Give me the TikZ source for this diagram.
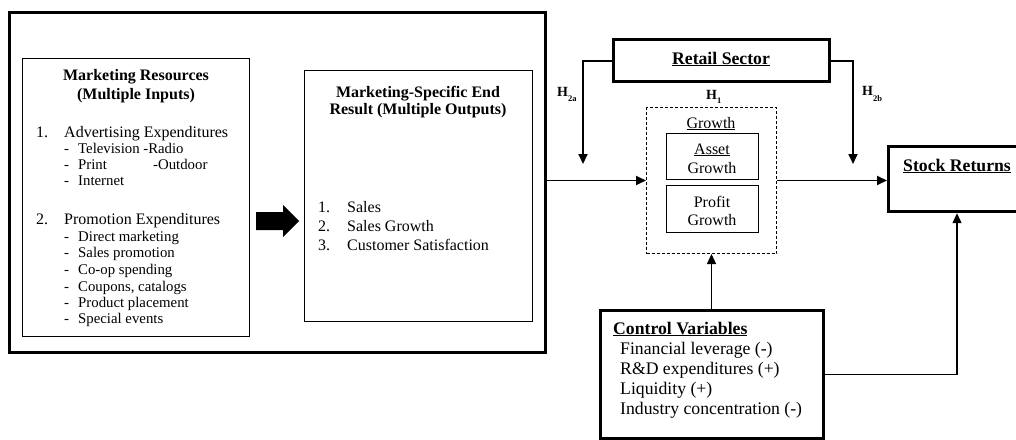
\documentclass[tikz,border=0pt]{standalone}
\usepackage{fontspec}
\setmainfont{Liberation Serif}
\usetikzlibrary{arrows.meta}
\begin{document}
\begin{tikzpicture}[x=1pt,y=-1pt,
  box/.style={draw, anchor=north west, inner sep=0pt},
  thinbox/.style={box, line width=1.4pt},
  thickbox/.style={box, line width=3.2pt},
  t/.style={inner sep=0pt, anchor=base west},
  tc/.style={inner sep=0pt, anchor=base},
  fA/.style={font=\fontsize{16}{17}\selectfont},
  fAb/.style={font=\fontsize{16}{17}\selectfont\bfseries},
  fS/.style={font=\fontsize{14.8}{16}\selectfont},
  fC/.style={font=\fontsize{17.7}{20}\selectfont},
  fCb/.style={font=\fontsize{17.7}{20}\selectfont\bfseries},
  fH/.style={font=\fontsize{14}{14}\selectfont\bfseries},
  arr/.style={line width=1.8pt, -{Triangle[length=10pt,width=9pt]}},
  tarr/.style={line width=1.2pt, -{Triangle[length=10pt,width=9pt]}}
]
\useasboundingbox (0,0) rectangle (1016,439);
% boxes
\node[box, line width=3pt, minimum width=536pt, minimum height=340pt] (outer) at (8,11) {};
\node[thinbox, minimum width=227pt, minimum height=278pt] (res) at (22,58) {};
\node[thinbox, minimum width=228pt, minimum height=251pt] (msp) at (304,70) {};
\node[thickbox, minimum width=216pt, minimum height=42pt] (retail) at (612,38) {};
\node[box, dash pattern=on 3pt off 2pt, line width=1pt, minimum width=130pt, minimum height=146pt] (dash) at (646,107) {};
\node[box, line width=1.3pt, minimum width=92pt, minimum height=46pt] (asset) at (666,133) {};
\node[box, line width=1.3pt, minimum width=92pt, minimum height=47pt] (profit) at (666,185) {};
\node[thickbox, minimum width=135pt, minimum height=65pt] (stock) at (887,145) {};
\node[thickbox, minimum width=223pt, minimum height=128pt] (control) at (599,309) {};
% fat arrow
\fill (256,212) -- (283,212) -- (283,205) -- (299,221) -- (283,237) -- (283,230) -- (256,230) -- cycle;
% texts in resources box
\node[tc, fAb] (rt1) at (136,80) {Marketing Resources};
\node[tc, fAb] (rt2) at (136,99) {(Multiple Inputs)};
\node[t, fA] (r1n) at (36,137) {1.};
\node[t, fA] (r1) at (64,137) {Advertising Expenditures};
\node[t, fS] (r1a) at (64,153) {-};
\node[t, fS] (r1at) at (78,153) {Television -Radio};
\node[t, fS] (r1b) at (64,169) {-};
\node[t, fS] (r1bt) at (78,169) {Print};
\node[t, fS] (r1bo) at (153,169) {-Outdoor};
\node[t, fS] (r1c) at (64,185) {-};
\node[t, fS] (r1ct) at (78,185) {Internet};
\node[t, fA] (r2n) at (36,224) {2.};
\node[t, fA] (r2) at (64,224) {Promotion Expenditures};
\foreach \i/\y/\s in {a/241/Direct marketing, b/257/Sales promotion, c/274/Co-op spending, d/291/{Coupons, catalogs}, e/307/Product placement, f/323/Special events}{
  \node[t, fS] (r2\i) at (64,\y) {-};
  \node[t, fS] (r2\i t) at (78,\y) {\s};
}
% texts in msp box
\node[tc, fAb] (mt1) at (418,97) {Marketing-Specific End};
\node[tc, fAb] (mt2) at (418,114) {Result (Multiple Outputs)};
\node[t, fA] (m1n) at (318,212) {1.};
\node[t, fA] (m1) at (347,212) {Sales};
\node[t, fA] (m2n) at (318,231) {2.};
\node[t, fA] (m2) at (347,231) {Sales Growth};
\node[t, fA] (m3n) at (318,250) {3.};
\node[t, fA] (m3) at (347,250) {Customer Satisfaction};
% retail
\node[tc, fCb] (rettxt) at (721,64) {\underline{Retail Sector}};
% hypotheses
\node[t, fH] (h2a) at (557,96) {H\raisebox{-5pt}{\fontsize{8.5}{8.5}\selectfont 2a}};
\node[t, fH] (h1) at (706,99) {H\raisebox{-4pt}{\fontsize{8.5}{8.5}\selectfont 1}};
\node[t, fH] (h2b) at (862,95) {H\raisebox{-6pt}{\fontsize{8.5}{8.5}\selectfont 2b}};
% growth
\node[tc, fA] (growth) at (711,128) {\underline{Growth}};
\node[tc, fA] (asset1) at (712,154) {\underline{Asset}};
\node[tc, fA] (asset2) at (712,173) {Growth};
\node[tc, fA] (profit1) at (712,207) {Profit};
\node[tc, fA] (profit2) at (712,225) {Growth};
% stock
\node[t, fCb] (stocktxt) at (903,171) {\underline{Stock Returns}};
% control
\node[t, fCb] (c0) at (613,334) {\underline{Control Variables}};
\node[t, fC] (c1) at (620,354) {Financial leverage (-)};
\node[t, fC] (c2) at (620,374) {R\&D expenditures (+)};
\node[t, fC] (c3) at (620,394) {Liquidity (+)};
\node[t, fC] (c4) at (620,414) {Industry concentration (-)};
% connectors
\coordinate (h2aend) at (583,164);
\coordinate (h2bend) at (853,164);
\coordinate (cbend) at (957,0);
\draw[arr] (outer.east |- dash.west) -- (dash.west);
\draw[arr] (dash.east) -- (dash.east -| stock.west);
\draw[arr] (retail.west) -| (h2aend);
\draw[arr] (retail.east) -| (h2bend);
\draw[tarr] (dash.south |- control.north) -- (dash.south);
\draw[tarr] (control.east) -| (cbend |- stock.south);
\end{tikzpicture}
\end{document}
